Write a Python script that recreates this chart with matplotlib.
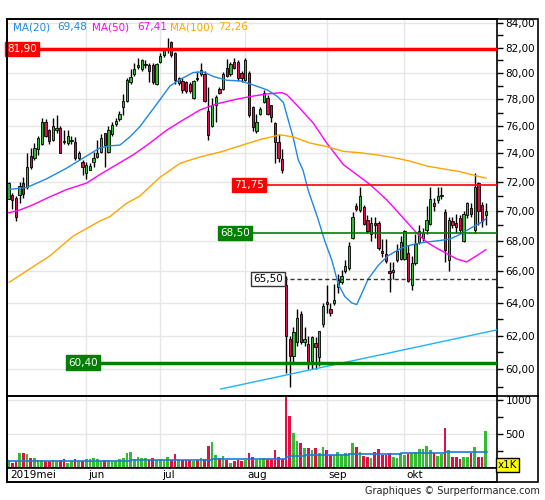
import matplotlib
matplotlib.use("Agg")
import matplotlib.pyplot as plt
import numpy as np
import pandas as pd
from matplotlib.patches import Rectangle
from matplotlib.lines import Line2D
from matplotlib.ticker import FixedLocator, NullFormatter, FuncFormatter

# ---------------- data ----------------
dates = pd.bdate_range("2019-05-03", periods=130)

opens = [70.8, 71.1, 70.85, 71.1, 71.9, 71.6, 73.8, 73.65, 74.3, 74.7,
         76.3, 75.7, 75.0, 75.7, 75.85, 74.9, 74.75, 74.9, 74.8, 73.65,
         73.4, 72.6, 72.85, 73.4, 73.75, 74.1, 75.45, 74.1, 75.4, 76.15,
         76.5, 77.4, 77.9, 79.3, 79.9, 80.5, 80.3, 80.6, 80.6, 80.6,
         79.2, 80.9, 81.4, 81.8, 82.45, 81.6, 79.25, 79.4, 79.3, 79.2,
         78.1, 79.6, 79.9, 79.95, 77.1, 76.0, 77.6, 78.8, 78.8, 80.4,
         79.9, 80.9, 80.9, 80.05, 79.5, 80.05, 77.4, 75.6, 76.9, 77.8,
         78.1, 77.6, 76.2, 74.8, 73.6, 65.1, 61.8, 60.8, 61.6, 63.3,
         61.6, 61.5, 60.5, 61.55, 60.7, 62.7, 64.05, 63.6, 64.0, 65.0,
         65.3, 66.0, 66.2, 68.2, 70.3, 70.05, 70.25, 69.4, 68.4, 69.15,
         69.2, 67.3, 67.1, 66.0, 65.95, 66.7, 66.8, 66.8, 67.2, 65.1,
         66.5, 67.9, 68.2, 68.7, 69.1, 70.5, 70.7, 71.0, 69.9, 66.7,
         69.3, 69.2, 69.5, 68.0, 69.7, 70.15, 68.7, 71.9, 70.4, 69.7]
highs = [71.95, 71.2, 71.0, 72.0, 72.3, 74.0, 74.4, 74.75, 75.25, 76.6,
         76.5, 75.8, 76.6, 76.8, 76.0, 75.7, 75.7, 75.3, 75.2, 74.2,
         73.5, 73.4, 73.3, 74.1, 75.0, 75.4, 75.5, 76.0, 76.3, 76.6,
         77.1, 78.4, 79.6, 80.3, 80.8, 81.2, 81.1, 81.0, 80.8, 80.8,
         80.8, 81.6, 81.9, 82.75, 82.5, 81.65, 79.7, 79.6, 79.4, 79.3,
         79.5, 80.2, 80.8, 80.2, 78.95, 78.1, 78.35, 78.9, 80.1, 81.1,
         80.85, 81.15, 81.0, 80.2, 81.2, 80.2, 77.5, 76.9, 77.4, 78.7,
         78.3, 77.6, 76.3, 75.4, 74.3, 65.7, 62.0, 62.5, 63.6, 63.5,
         62.5, 62.0, 62.0, 61.9, 62.3, 64.0, 65.1, 64.0, 65.2, 65.8,
         66.1, 66.7, 67.9, 69.9, 70.5, 71.6, 70.4, 69.7, 69.6, 69.6,
         69.3, 68.1, 68.1, 66.6, 66.6, 67.8, 68.3, 68.7, 67.7, 67.0,
         68.4, 69.0, 68.8, 70.3, 71.6, 70.9, 71.6, 71.6, 70.1, 69.6,
         69.6, 69.8, 69.7, 70.0, 70.6, 70.5, 72.6, 72.0, 70.6, 70.5]
lows = [70.8, 70.1, 69.3, 70.5, 70.85, 71.5, 72.9, 73.5, 73.9, 74.6,
        75.2, 74.7, 74.9, 75.5, 74.0, 74.7, 74.6, 74.7, 73.5, 73.5,
        72.5, 72.2, 72.8, 73.05, 73.65, 74.0, 73.05, 74.0, 75.3, 76.0,
        76.4, 76.8, 77.8, 79.2, 79.8, 80.3, 80.2, 80.4, 79.3, 79.15,
        79.1, 80.8, 81.3, 81.6, 81.3, 79.2, 79.1, 78.5, 78.5, 78.5,
        78.0, 79.4, 79.8, 77.8, 75.0, 75.9, 76.3, 78.4, 78.7, 79.7,
        79.8, 80.3, 79.4, 79.3, 79.4, 76.7, 75.6, 75.5, 76.8, 77.7,
        76.8, 76.3, 73.3, 73.4, 72.6, 59.8, 59.0, 60.3, 61.4, 61.5,
        61.4, 60.0, 60.0, 60.0, 60.2, 62.5, 63.4, 63.2, 63.9, 64.6,
        65.2, 65.9, 66.1, 68.1, 70.0, 69.9, 69.0, 68.5, 68.0, 68.2,
        67.4, 66.9, 66.5, 64.7, 65.5, 66.6, 66.7, 66.7, 65.3, 64.8,
        66.4, 67.8, 68.0, 68.4, 69.0, 70.0, 70.5, 70.8, 66.6, 66.0,
        68.8, 68.5, 68.5, 67.9, 69.5, 69.6, 68.5, 69.0, 68.9, 69.0]
closes = [71.9, 70.7, 69.6, 71.7, 71.15, 73.0, 73.0, 74.4, 75.1, 76.3,
          75.3, 74.9, 76.0, 75.85, 74.0, 74.8, 75.3, 74.95, 73.65, 74.0,
          73.0, 73.2, 73.1, 73.65, 74.0, 75.1, 74.6, 75.7, 76.1, 76.4,
          76.9, 77.9, 79.5, 79.7, 80.3, 80.6, 81.0, 80.7, 80.2, 79.35,
          80.7, 81.35, 81.8, 81.9, 81.4, 79.5, 79.6, 78.7, 78.6, 78.6,
          79.4, 79.55, 80.25, 77.9, 75.35, 77.6, 78.2, 78.45, 79.9, 79.8,
          80.7, 80.4, 79.6, 79.6, 81.0, 76.8, 75.9, 76.3, 77.3, 78.5,
          76.9, 76.7, 74.8, 73.7, 72.8, 62.0, 60.8, 62.2, 63.1, 61.6,
          61.8, 60.4, 61.9, 61.3, 62.3, 63.8, 63.95, 63.4, 64.2, 65.45,
          65.7, 66.35, 67.65, 69.6, 70.1, 70.97, 69.1, 68.6, 69.2, 69.05,
          67.5, 67.2, 66.65, 65.9, 66.05, 67.3, 67.9, 68.6, 65.4, 66.5,
          67.8, 68.6, 68.5, 69.4, 70.8, 70.3, 71.0, 71.06, 67.4, 69.4,
          69.0, 68.9, 68.7, 69.8, 70.5, 69.8, 71.6, 70.0, 69.3, 70.0]
volumes = [104, 64, 94, 222, 212, 193, 148, 143, 114, 114,
           89, 89, 114, 94, 114, 128, 64, 94, 128, 89,
           89, 128, 128, 148, 128, 94, 114, 114, 89, 89,
           124, 148, 212, 237, 124, 163, 148, 143, 104, 138,
           114, 124, 114, 153, 104, 193, 109, 114, 114, 104,
           89, 114, 148, 120, 326, 385, 183, 143, 168, 104,
           64, 94, 104, 99, 109, 222, 153, 109, 124, 143,
           128, 128, 252, 163, 124, 1250, 756, 509, 390, 360,
           287, 287, 252, 287, 212, 311, 252, 188, 188, 227,
           188, 212, 212, 360, 311, 237, 173, 163, 138, 227,
           280, 178, 178, 212, 163, 143, 212, 183, 200, 222,
           237, 267, 277, 326, 252, 222, 173, 200, 583, 252,
           163, 163, 124, 158, 153, 212, 301, 153, 153, 538]

# volume average (step levels)
volma_start = [0, 28, 33, 55, 75, 76, 80, 92, 106, 118]
volma_value = [94, 89, 114, 124, 150, 168, 178, 203, 222, 232]

# moving averages (day index, value)
ma20_idx = [0, 5, 10.3, 15.7, 21, 24.7, 27.4, 30.1, 32.8, 35.5, 40.9, 43.6, 46.3,
            49.9, 52.6, 55.3, 59, 62.6, 66, 70, 72.7, 74.3, 75.6, 76.9, 78.3,
            79.6, 81, 83.7, 85.5, 87.4, 89.1, 90.9, 92.8, 94.1, 95.5, 97.2,
            100, 102.6, 105.4, 107.2, 110.3, 113, 116.6, 119.3, 122, 124.7,
            127.4, 129]
ma20_val = [71.45, 71.6, 72.2, 72.95, 73.8, 74.4, 74.55, 74.6, 75.2, 75.95, 77.95,
            79.0, 79.5, 80.05, 80.1, 79.75, 79.45, 79.4, 79.1, 78.7, 78.2, 77.75,
            76.45, 75.2, 73.55, 72.8, 71.4, 69.4, 67.95, 66.7, 65.2, 64.4, 64.0,
            63.9, 64.6, 65.5, 66.4, 67.0, 67.4, 67.6, 67.8, 67.9, 68.0, 68.1,
            68.4, 68.8, 69.15, 69.45]
ma50_idx = [0, 3.1, 6.6, 11.2, 15.7, 21.1, 24.7, 29.2, 33.7, 38.2, 42.8, 47.2,
            51.8, 56.3, 60.8, 65.3, 69.8, 73.8, 75.2, 78.8, 82.4, 86, 90.5,
            94.1, 97.7, 102.2, 106.7, 110.3, 113, 115.7, 118.4, 121.1, 123.8,
            126.5, 129]
ma50_val = [69.85, 70.05, 70.4, 70.95, 71.45, 71.9, 72.5, 73.2, 73.9, 74.75, 75.7,
            76.45, 77.2, 77.65, 77.95, 78.2, 78.4, 78.5, 78.35, 77.3, 76.2, 74.75,
            73.2, 72.5, 71.8, 70.75, 69.5, 68.5, 67.9, 67.5, 67.15, 66.8, 66.6,
            67.0, 67.4]
ma100_idx = [0.2, 6.7, 11.2, 17.5, 21.1, 24.7, 27.4, 31.9, 35.5, 40.9, 46.4,
             51.8, 57.2, 62.6, 67.9, 73.4, 76.9, 81.5, 86, 90.5, 95, 99.5, 104,
             108.5, 113, 117.5, 122, 126.5, 129]
ma100_val = [65.3, 66.3, 67.0, 68.3, 68.8, 69.3, 69.6, 70.5, 71.0, 72.3, 73.3,
             73.75, 74.1, 74.55, 75.0, 75.35, 75.2, 74.75, 74.5, 74.15, 74.05,
             73.9, 73.7, 73.45, 73.1, 72.9, 72.7, 72.4, 72.25]

ma_names = ["MA(20)", "MA(50)", "MA(100)"]
ma_last = ["69,48", "67,41", "72,26"]

# horizontal levels
levels = [81.90, 71.75, 68.50, 65.50, 60.40]
trend_idx = [57.4, 132.0]
trend_val = [58.87, 62.35]

month_nl = {5: "mei", 6: "jun", 7: "jul", 8: "aug", 9: "sep", 10: "okt", 11: "nov"}

# ---------------- styling ----------------
W, H = 545, 500
GREEN = "#33bb33"
RED = "#dd1144"
GRID = "#e6e6e6"
FS = 7.5

def fx(px):
    return px / W

def fy(py):
    return 1 - py / H

fig = plt.figure(figsize=(W / 100, H / 100), dpi=100)
fig.patch.set_facecolor("white")

ax = fig.add_axes([fx(7), fy(395.5), 490 / W, 377 / H])
axv = fig.add_axes([fx(7), fy(467.5), 490 / W, 72 / H])
axd = fig.add_axes([fx(7), fy(482), 490 / W, 14.5 / H])

# pixel -> index mapping: x = 8.5 + 3.7*idx
xl = ((7 - 8.5) / 3.7, (497 - 8.5) / 3.7)
for a in (ax, axv, axd):
    a.set_xlim(*xl)
    a.set_xticks([])
    for s in a.spines.values():
        s.set_linewidth(1.2)
        s.set_color("black")

idx = np.arange(len(dates))
o = np.array(opens); h = np.array(highs); l = np.array(lows); c = np.array(closes)
up = c >= o
cols = np.where(up, GREEN, RED)

# month grid
month_starts = [i for i in range(1, len(dates)) if dates[i].month != dates[i - 1].month]

# ---- main price panel ----
ax.set_yscale("log")
ax.set_ylim(58.50, 84.36)
ax.set_axisbelow(True)
major = list(range(60, 85, 2))
minor = list(range(59, 85, 2))
ax.yaxis.set_major_locator(FixedLocator(major))
ax.yaxis.set_minor_locator(FixedLocator(minor))
ax.yaxis.set_major_formatter(FuncFormatter(lambda v, p: f"{v:.2f}".replace(".", ",")))
ax.yaxis.set_minor_formatter(NullFormatter())
ax.yaxis.tick_right()
ax.tick_params(axis="y", which="both", direction="out", length=4, width=1,
               labelsize=FS, pad=2, colors="black")
ax.grid(axis="y", which="major", color=GRID, lw=1)
for m in month_starts:
    ax.axvline(m, color=GRID, lw=1, zorder=0)

# candles
ax.vlines(idx, l, h, color="black", lw=1, zorder=2)
body = np.maximum(np.abs(c - o), 0.06)
ax.bar(idx, body, bottom=np.minimum(o, c), width=0.62, color=cols,
       edgecolor="black", linewidth=0.6, zorder=3)

# moving averages
ax.plot(ma20_idx, ma20_val, color="#1e88e5", lw=1, zorder=4)
ax.plot(ma50_idx, ma50_val, color="#ff00ff", lw=1, zorder=4)
ax.plot(ma100_idx, ma100_val, color="#ffa500", lw=1, zorder=4)

# trend line
ax.plot(trend_idx, trend_val, color="#19b5fe", lw=1, zorder=4)

# levels
lvl_style = [
    dict(color="#ff0000", lw=2.5, ls="-", start=xl[0], box_fc="#ff0000", box_ec="#ff0000", tc="white", lab_x=xl[0], ha="left"),
    dict(color="#ff0000", lw=1.2, ls="-", start=69.05, box_fc="#ff0000", box_ec="#ff0000", tc="white", lab_x=69.05, ha="right"),
    dict(color="#008000", lw=1.2, ls="-", start=65.3, box_fc="#008000", box_ec="#008000", tc="white", lab_x=65.3, ha="right"),
    dict(color="#333333", lw=1.0, ls=(0, (3, 2)), start=74.2, box_fc="white", box_ec="#333333", tc="black", lab_x=74.2, ha="right"),
    dict(color="#008000", lw=2.5, ls="-", start=24.2, box_fc="#008000", box_ec="#008000", tc="white", lab_x=24.2, ha="right"),
]
for v, st in zip(levels, lvl_style):
    ax.plot([st["start"], xl[1]], [v, v], color=st["color"], lw=st["lw"], ls=st["ls"], zorder=5)
    ax.text(st["lab_x"], v, f"{v:.2f}".replace(".", ","), color=st["tc"], fontsize=FS,
            ha=st["ha"], va="center", zorder=6,
            bbox=dict(boxstyle="square,pad=0.2", fc=st["box_fc"], ec=st["box_ec"], lw=1))

# legend texts
ma_cols = ["#1e88e5", "#ff00ff", "#ffa500"]
name_x = [13, 92, 170]
val_x = [57, 137, 218]
for nm, vl, cl, nx, vx in zip(ma_names, ma_last, ma_cols, name_x, val_x):
    fig.text(fx(nx), fy(27), nm, color=cl, fontsize=FS, ha="left", va="center")
    fig.text(fx(vx), fy(27), vl, color=cl, fontsize=FS, ha="left", va="center")

# ---- volume panel ----
axv.set_ylim(0, 1067)
axv.set_axisbelow(True)
axv.yaxis.tick_right()
axv.yaxis.set_major_locator(FixedLocator([500, 1000]))
axv.yaxis.set_minor_locator(FixedLocator([250, 750]))
axv.yaxis.set_major_formatter(FuncFormatter(lambda v, p: f"{int(v)}"))
axv.yaxis.set_minor_formatter(NullFormatter())
axv.tick_params(axis="y", which="both", direction="out", length=4, width=1,
                labelsize=FS, pad=2, colors="black")
axv.grid(axis="y", which="major", color=GRID, lw=1)
for m in month_starts:
    axv.axvline(m, color=GRID, lw=1, zorder=0)
axv.bar(idx, volumes, width=0.72, color=cols, linewidth=0, zorder=2)
vx = list(volma_start) + [len(dates) - 0.6]
vy = list(volma_value) + [volma_value[-1]]
axv.plot(vx, vy, drawstyle="steps-post", color="#1e78d7", lw=1.2, zorder=3)

fig.text(fx(507.5), fy(465), "x1K", fontsize=FS, ha="center", va="center", color="black",
         bbox=dict(boxstyle="square,pad=0.15", fc="#ffff00", ec="black", lw=1))

# ---- date strip ----
axd.set_ylim(0, 1)
axd.set_yticks([])
first = True
for i in [0] + month_starts:
    lab = month_nl[dates[i].month]
    if first:
        lab = f"{dates[i].year}{lab}"
        first = False
    axd.text(i + 0.45, 0.45, lab, fontsize=FS, ha="left", va="center", color="black")

# outer frame
fig.add_artist(Rectangle((fx(7), fy(482)), 531 / W, 463.5 / H, transform=fig.transFigure,
                         fill=False, ec="black", lw=1.2))
fig.add_artist(Line2D([fx(7), fx(538)], [fy(395.5), fy(395.5)], transform=fig.transFigure,
                      color="black", lw=1.2))

fig.text(fx(540), fy(491), "Graphiques \u00a9 Surperformance.com", fontsize=7,
         ha="right", va="center", color="#222222")

fig.savefig("out.png", dpi=100)
